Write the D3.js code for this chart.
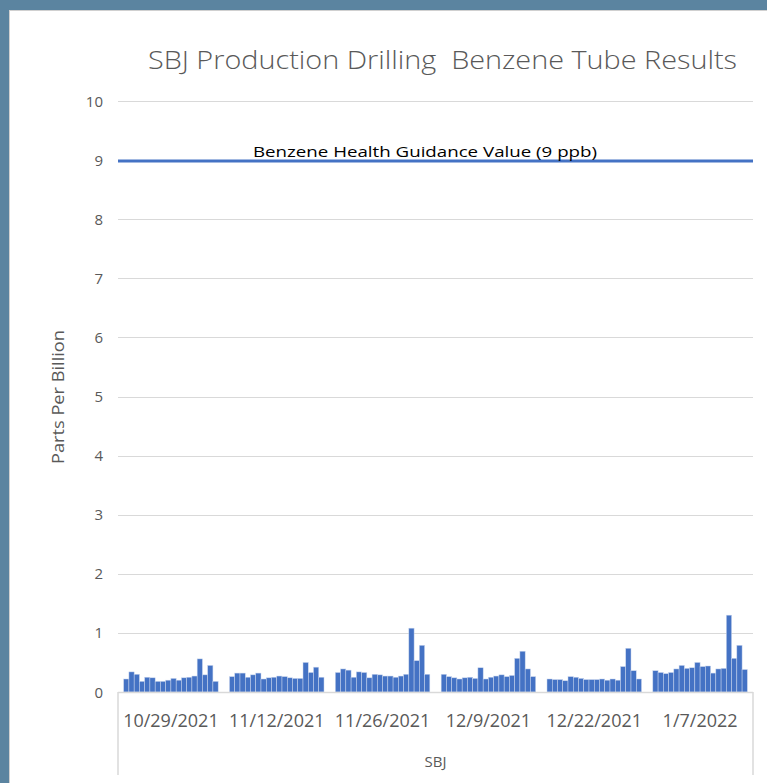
<!DOCTYPE html>
<html>
<head>
<meta charset="utf-8">
<script src="https://cdn.jsdelivr.net/npm/d3@7"></script>
<style>
  html, body { margin: 0; padding: 0; background: #5b84a0; }
  svg { display: block; }
</style>
</head>
<body>
<script>
// sample dates (categories) and the 18 tube readings for each date, ppb
const dates = ["10/29/2021", "11/12/2021", "11/26/2021", "12/9/2021", "12/22/2021", "1/7/2022"]
const oct29 = [0.22, 0.34, 0.30, 0.18, 0.25, 0.24, 0.18, 0.18, 0.20, 0.23, 0.20, 0.24, 0.25, 0.27, 0.56, 0.29, 0.45, 0.18]
const nov12 = [0.26, 0.32, 0.32, 0.25, 0.29, 0.32, 0.22, 0.24, 0.25, 0.27, 0.26, 0.24, 0.23, 0.23, 0.50, 0.33, 0.42, 0.25]
const nov26 = [0.33, 0.39, 0.37, 0.25, 0.34, 0.33, 0.24, 0.30, 0.29, 0.27, 0.27, 0.25, 0.27, 0.30, 1.08, 0.53, 0.79, 0.30]
const dec9  = [0.30, 0.26, 0.24, 0.22, 0.24, 0.25, 0.23, 0.41, 0.22, 0.25, 0.27, 0.29, 0.26, 0.28, 0.57, 0.69, 0.39, 0.26]
const dec22 = [0.22, 0.21, 0.21, 0.19, 0.26, 0.25, 0.23, 0.21, 0.21, 0.21, 0.22, 0.20, 0.22, 0.20, 0.43, 0.74, 0.36, 0.22]
const jan7  = [0.36, 0.33, 0.31, 0.33, 0.39, 0.45, 0.40, 0.41, 0.50, 0.43, 0.44, 0.32, 0.39, 0.40, 1.30, 0.57, 0.79, 0.38]
const readings = [oct29, nov12, nov26, dec9, dec22, jan7]
const yTicks = [0, 1, 2, 3, 4, 5, 6, 7, 8, 9, 10]
const guidance = 9
const guidanceLabel = "Benzene Health Guidance Value (9 ppb)"

const width = 767, height = 783
const plot = {left: 118, right: 753, top: 101, bottom: 692}
const font = "'Open Sans', sans-serif"

const svg = d3.select("body").append("svg")
  .attr("width", width)
  .attr("height", height)

// chart frame
svg.append("rect")
  .attr("x", 9).attr("y", 10)
  .attr("width", width - 9).attr("height", height - 10)
  .attr("fill", "#ffffff")
svg.append("line")
  .attr("x1", 9.5).attr("x2", 9.5).attr("y1", 10).attr("y2", height)
  .attr("stroke", "#d0d0d0")
svg.append("line")
  .attr("x1", 9).attr("x2", width).attr("y1", 10.5).attr("y2", 10.5)
  .attr("stroke", "#d0d0d0")

const y = d3.scaleLinear().domain([0, 10]).range([plot.bottom, plot.top])
const x0 = d3.scaleBand().domain(dates).range([plot.left, plot.right])
  .paddingInner(0.107).paddingOuter(0.0535)
const x1 = d3.scaleBand().domain(d3.range(18)).range([0, x0.bandwidth()])

// gridlines
svg.append("g").selectAll("line")
  .data(yTicks.filter(d => d > 0))
  .join("line")
    .attr("x1", plot.left).attr("x2", plot.right)
    .attr("y1", d => Math.round(y(d)) + 0.5).attr("y2", d => Math.round(y(d)) + 0.5)
    .attr("stroke", "#d9d9d9")
    .attr("stroke-width", 1.2)

// y tick labels
svg.append("g").selectAll("text")
  .data(yTicks)
  .join("text")
    .attr("x", 103)
    .attr("y", d => y(d) + 5.5)
    .attr("text-anchor", "end")
    .attr("fill", "#595959")
    .style("font-family", font)
    .style("font-size", "15px")
    .text(d => d)

// bars
svg.append("g").selectAll("g")
  .data(readings)
  .join("g")
    .attr("transform", (d, i) => `translate(${x0(dates[i])},0)`)
  .selectAll("rect")
  .data(d => d)
  .join("rect")
    .attr("x", (d, j) => x1(j))
    .attr("y", d => y(d))
    .attr("width", x1.bandwidth())
    .attr("height", d => y(0) - y(d))
    .attr("fill", "#4472c4")
    .attr("stroke", "#c9d6ee")
    .attr("stroke-width", 0.5)

// category axis box
svg.append("line")
  .attr("x1", plot.left).attr("x2", plot.right)
  .attr("y1", plot.bottom + 0.5).attr("y2", plot.bottom + 0.5)
  .attr("stroke", "#d9d9d9").attr("stroke-width", 1.5)
svg.append("g").selectAll("line")
  .data([plot.left, plot.right])
  .join("line")
    .attr("x1", d => d).attr("x2", d => d)
    .attr("y1", plot.bottom).attr("y2", 775)
    .attr("stroke", "#d9d9d9").attr("stroke-width", 1.5)

svg.append("g").selectAll("text")
  .data(dates)
  .join("text")
    .attr("x", d => x0(d) + x0.bandwidth() / 2)
    .attr("y", 727)
    .attr("text-anchor", "middle")
    .attr("fill", "#595959")
    .style("font-family", font)
    .style("font-size", "18px")
    .text(d => d)

svg.append("text")
  .attr("x", (plot.left + plot.right) / 2)
  .attr("y", 767)
  .attr("text-anchor", "middle")
  .attr("fill", "#595959")
  .style("font-family", font)
  .style("font-size", "15px")
  .text("SBJ")

// y axis title
svg.append("text")
  .attr("transform", "translate(64,397) rotate(-90)")
  .attr("text-anchor", "middle")
  .attr("fill", "#595959")
  .attr("textLength", 134)
  .attr("lengthAdjust", "spacingAndGlyphs")
  .style("font-family", font)
  .style("font-size", "16.5px")
  .text("Parts Per Billion")

// guidance value line
svg.append("line")
  .attr("x1", plot.left).attr("x2", plot.right)
  .attr("y1", y(guidance) + 1).attr("y2", y(guidance) + 1)
  .attr("stroke", "#4472c4")
  .attr("stroke-width", 3)

svg.append("text")
  .attr("x", 253)
  .attr("y", y(guidance) - 3)
  .attr("fill", "#000000")
  .attr("textLength", 344)
  .attr("lengthAdjust", "spacingAndGlyphs")
  .style("font-family", font)
  .style("font-size", "15px")
  .text(guidanceLabel)

// title
svg.append("text")
  .attr("x", 148)
  .attr("y", 69)
  .attr("fill", "#595959")
  .attr("textLength", 589)
  .attr("lengthAdjust", "spacingAndGlyphs")
  .style("font-family", font)
  .style("font-weight", 300)
  .style("font-size", "25px")
  .style("white-space", "pre")
  .text("SBJ Production Drilling  Benzene Tube Results")
</script>
</body>
</html>
